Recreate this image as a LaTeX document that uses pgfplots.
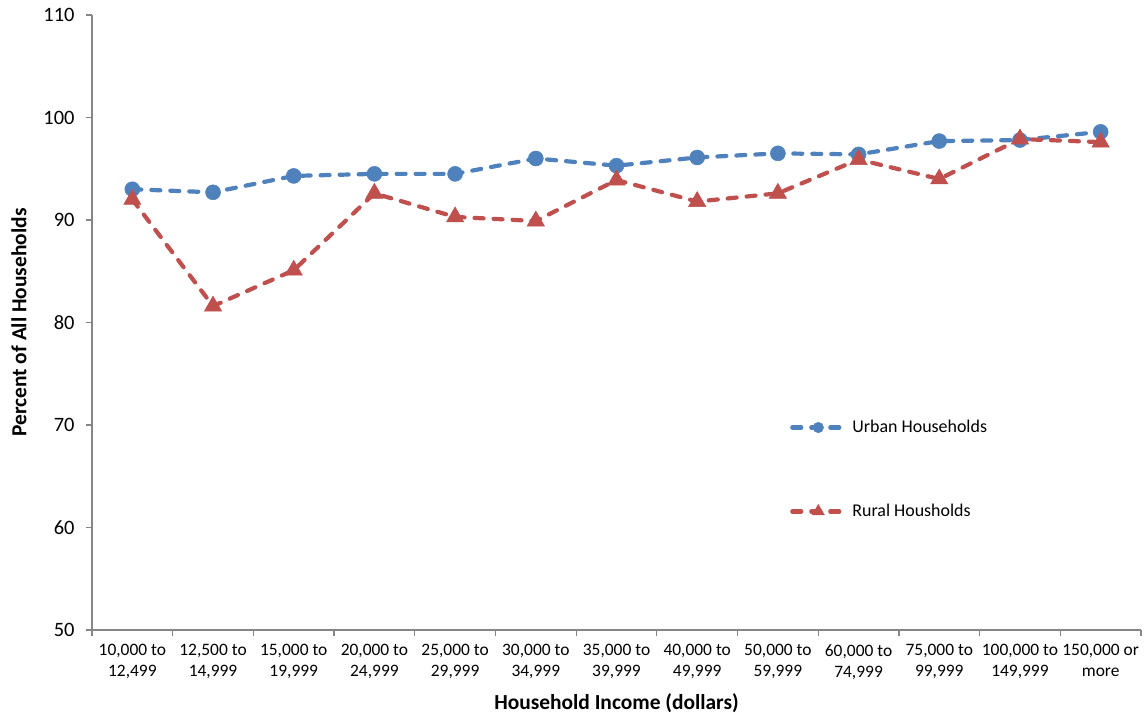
\documentclass[border=0pt]{standalone}
\usepackage{pgfplots}
\pgfplotsset{compat=1.18}
\usepackage{fontspec}
\setmainfont{Carlito}

\definecolor{urbanblue}{HTML}{4F81BD}
\definecolor{ruralred}{HTML}{C0504D}
\definecolor{axisgray}{HTML}{868686}

\pgfplotstableread{
x urban rural
0  93.0 92.0
1  92.7 81.6
2  94.3 85.1
3  94.5 92.6
4  94.5 90.3
5  96.0 89.9
6  95.3 93.9
7  96.1 91.8
8  96.5 92.6
9  96.4 95.9
10 97.7 94.0
11 97.8 97.9
12 98.6 97.6
}\incometable

\begin{document}
\begin{tikzpicture}
\path[use as bounding box] (-92bp,-85bp) rectangle (1054bp,630bp);
\begin{axis}[
  at={(0,0)}, anchor=south west,
  scale only axis,
  width=1049bp, height=615bp,
  xmin=-0.5, xmax=12.5,
  ymin=50, ymax=110,
  ytick={50,60,...,110},
  xtick={0,...,12},
  xticklabels={{10,000 to\\12,499},{12,500 to\\14,999},{15,000 to\\19,999},{20,000 to\\24,999},{25,000 to\\29,999},{30,000 to\\34,999},{35,000 to\\39,999},{40,000 to\\49,999},{50,000 to\\59,999},{60,000 to\\74,999},{75,000 to\\99,999},{100,000 to\\149,999},{150,000 or\\more}},
  minor xtick={-0.5,0.5,...,12.5},
  x tick style={draw=none},
  minor x tick style={draw=axisgray, line width=1.2bp},
  y tick style={draw=axisgray, line width=1.2bp},
  major tick length=6bp, minor tick length=6bp,
  tick align=outside,
  axis x line*=bottom, axis y line*=left,
  axis line style={draw=axisgray, line width=1.5bp, -},
  /pgf/number format/assume math mode=true,
  yticklabel style={font=\fontsize{20.5}{24}\selectfont, xshift=-8bp},
  xticklabel style={align=center, font=\fontsize{17.5}{21}\selectfont, yshift=-5bp},
  xlabel={Household Income (dollars)},
  ylabel={Percent of All Households},
  every axis x label/.style={at={(axis description cs:0.5,-0.1187)}, anchor=center, font=\fontsize{21.5}{25}\selectfont\bfseries},
  every axis y label/.style={at={(axis description cs:-0.0696,0.5)}, rotate=90, anchor=center, font=\fontsize{21.5}{25}\selectfont\bfseries},
  legend style={draw=none, fill=none, inner sep=0pt, at={(axis description cs:0.6654,0.261)}, anchor=west, row sep=66bp, font=\fontsize{18}{22}\selectfont, nodes={inner xsep=6bp}},
  legend cell align=left,
  legend image code/.code={\draw[mark repeat=2, mark phase=2, every mark/.append style={scale=0.7}] plot coordinates {(0bp,0bp) (26bp,0bp) (52bp,0bp)};},
  clip=false,
]
\addplot[urbanblue, line width=4.2bp, line cap=round, dash pattern=on 9bp off 10bp,
  mark=*, mark size=7.5bp, mark options={solid, fill=urbanblue, draw=urbanblue, line width=0.5bp}]
  table[x=x, y=urban] {\incometable};
\addlegendentry{Urban Households}
\addplot[ruralred, line width=4.2bp, line cap=round, dash pattern=on 9bp off 10bp,
  mark=triangle*, mark size=10bp, mark options={solid, fill=ruralred, draw=ruralred, line width=0.5bp}]
  table[x=x, y=rural] {\incometable};
\addlegendentry{Rural Housholds}
\end{axis}
\end{tikzpicture}
\end{document}
